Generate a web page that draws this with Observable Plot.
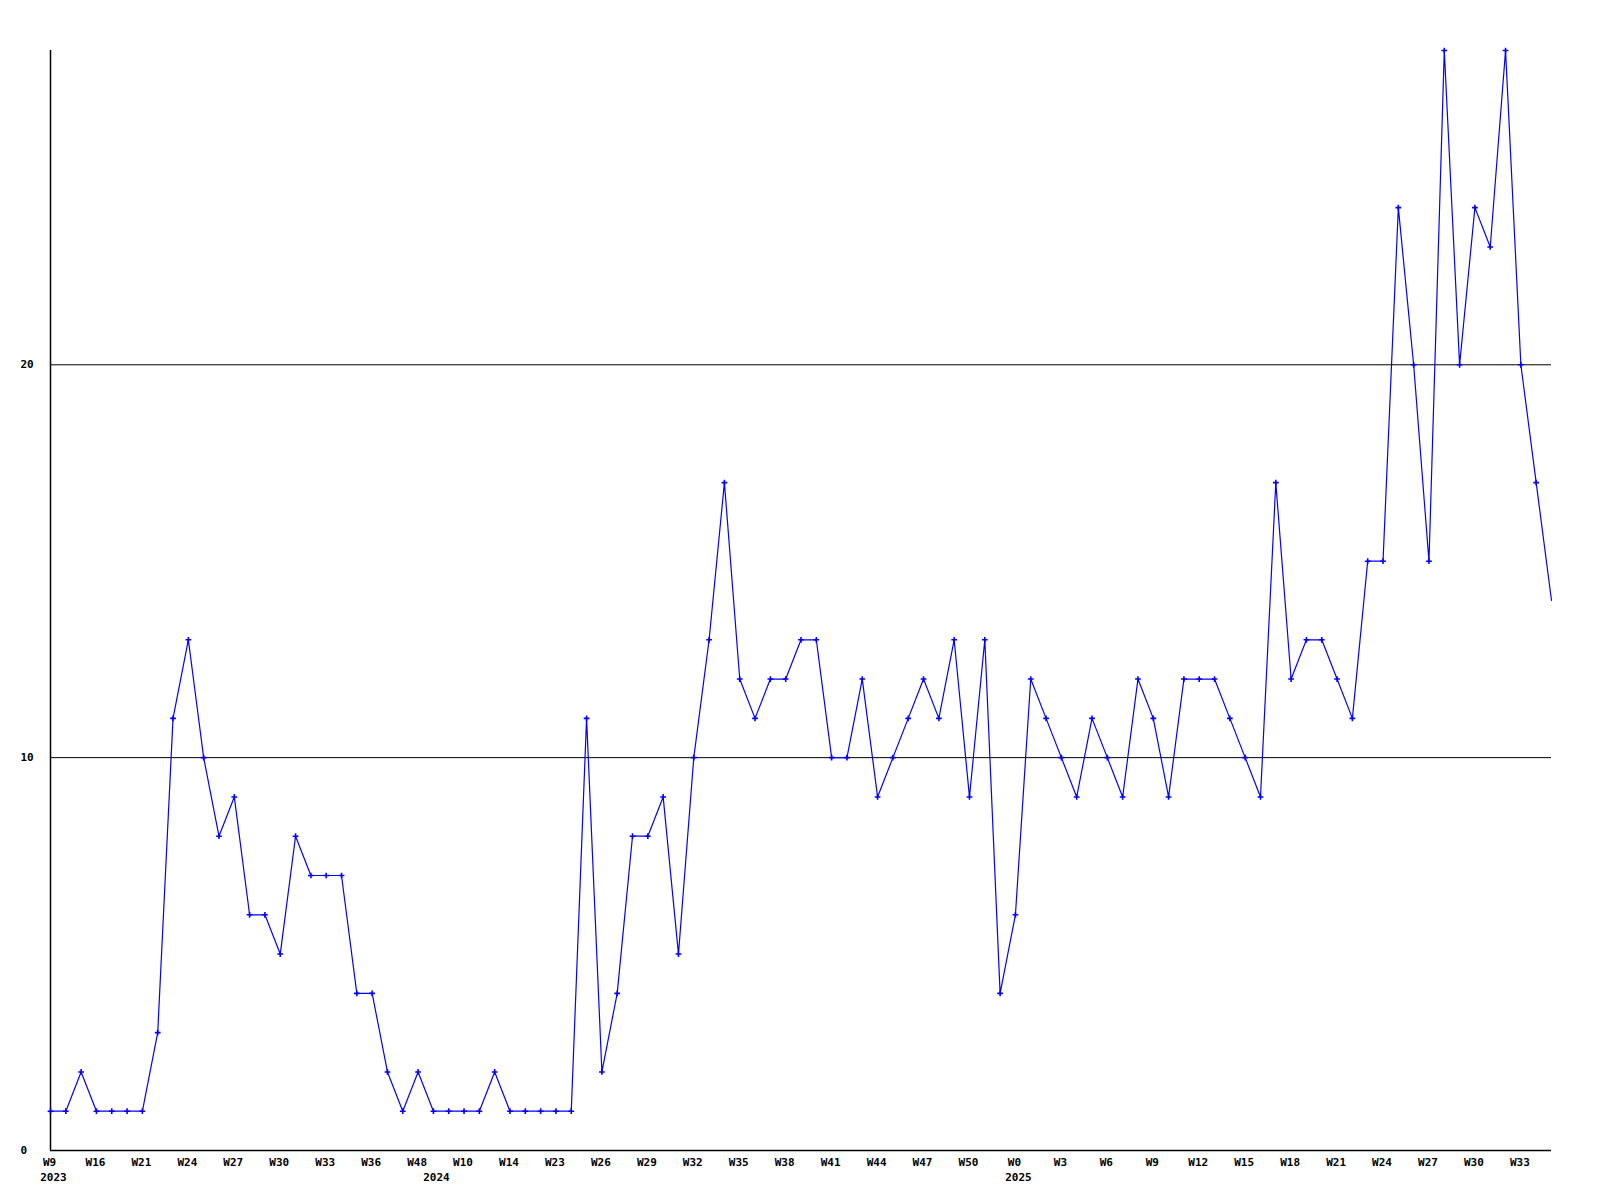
<!DOCTYPE html>
<html>
<head>
<meta charset="utf-8">
<script src="https://cdn.jsdelivr.net/npm/d3@7"></script>
<script src="https://cdn.jsdelivr.net/npm/@observablehq/plot@0.6"></script>
<style>
  html, body { margin: 0; padding: 0; background: #fff; }
  #chart svg { display: block; }
</style>
</head>
<body>
<div id="chart"></div>
<script>
// Weekly counts, one per week in order
const values = [1,1,2,1,1,1,1,3,11,13,10,8,9,6,6,5,8,7,7,7,4,4,2,1,2,1,1,1,1,2,1,1,1,1,1,11,2,4,8,8,9,5,10,13,17,12,11,12,12,13,13,10,10,12,9,10,11,12,11,13,9,13,4,6,12,11,10,9,11,10,9,12,11,9,12,12,12,11,10,9,17,12,13,13,12,11,15,15,24,20,15,28,20,24,23,28,20,17,14];

// Week labels shown on every third week
const weekTicks = ["W9","W16","W21","W24","W27","W30","W33","W36","W48","W10","W14","W23","W26","W29","W32","W35","W38","W41","W44","W47","W50","W0","W3","W6","W9","W12","W15","W18","W21","W24","W27","W30","W33"];
const tickStep = 3;

// Year labels and the week index at which each year starts
const years = ["2023","2024","2025"];
const yearStart = [0, 25, 63];

const yTicks = [0, 10, 20];
const gridValues = [10, 20];

const points = values.map((v, i) => ({i, v}));
const tickData = weekTicks.map((t, k) => ({i: k * tickStep, t}));
const yearData = years.map((y, k) => ({i: yearStart[k], y}));

const font = "'DejaVu Sans Mono', monospace";

const chart = Plot.plot({
  width: 1600,
  height: 1200,
  marginLeft: 50,
  marginRight: 49,
  marginTop: 50,
  marginBottom: 50,
  style: {fontFamily: font, fontSize: "11px", fontWeight: "bold", color: "#000", background: "#fff"},
  x: {type: "linear", domain: [0, values.length - 1], axis: null},
  y: {domain: [0, d3.max(values)], axis: null},
  marks: [
    Plot.ruleY(gridValues, {stroke: "#000", strokeWidth: 1}),
    Plot.ruleY([0], {stroke: "#000", strokeWidth: 1.5}),
    Plot.ruleX([0], {stroke: "#000", strokeWidth: 1.5}),
    Plot.axisY({ticks: yTicks, tickSize: 0, tickPadding: 30, textAnchor: "start", tickFormat: d => String(d), fontWeight: "bold", label: null}),
    Plot.line(points, {x: "i", y: "v", stroke: "#0000ff", strokeWidth: 1.2}),
    Plot.dot(points.slice(0, -1), {x: "i", y: "v", symbol: "plus", r: 2, stroke: "#0000ff", strokeWidth: 1.6}),
    Plot.text(tickData, {x: "i", y: () => 0, text: "t", dy: 12, dx: -1, textAnchor: "middle", lineAnchor: "middle", fill: "#000"}),
    Plot.text(yearData, {x: "i", y: () => 0, text: "y", dy: 27, dx: 3, textAnchor: "middle", lineAnchor: "middle", fill: "#000"})
  ]
});
document.getElementById("chart").appendChild(chart);
</script>
</body>
</html>
